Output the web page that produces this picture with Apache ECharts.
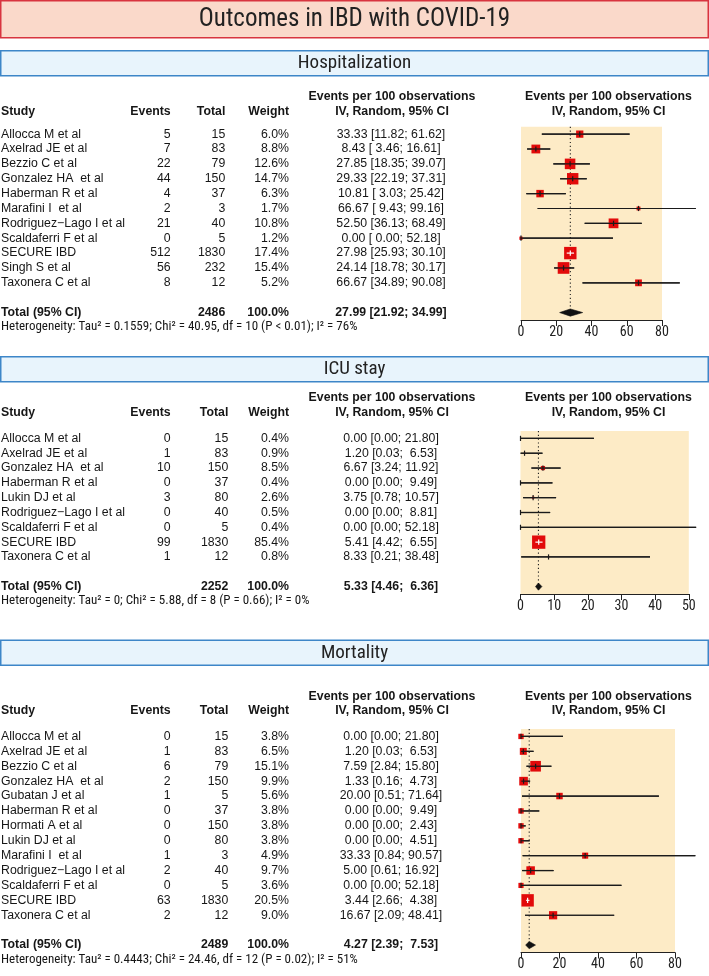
<!DOCTYPE html>
<html><head><meta charset="utf-8">
<script src="https://cdn.jsdelivr.net/npm/echarts@6/dist/echarts.min.js"></script>
<style>html,body{margin:0;padding:0;background:#fff}#c{width:709px;height:976px}</style>
</head><body><div id="c"></div><script>
// ---------- Hospitalization ----------
const hospStudies = ['Allocca M et al','Axelrad JE et al','Bezzio C et al','Gonzalez HA  et al','Haberman R et al','Marafini I  et al','Rodriguez\u2212Lago I et al','Scaldaferri F et al','SECURE IBD','Singh S et al','Taxonera C et al'];
const hospEvents  = [5,7,22,44,4,2,21,0,512,56,8];
const hospTotals  = [15,83,79,150,37,3,40,5,1830,232,12];
const hospWeights = [6.0,8.8,12.6,14.7,6.3,1.7,10.8,1.2,17.4,15.4,5.2];
const hospEst     = [33.33,8.43,27.85,29.33,10.81,66.67,52.50,0.00,27.98,24.14,66.67];
const hospLo      = [11.82,3.46,18.35,22.19,3.03,9.43,36.13,0.00,25.93,18.78,34.89];
const hospHi      = [61.62,16.61,39.07,37.31,25.42,99.16,68.49,52.18,30.10,30.17,90.08];
const hospPooled  = [27.99,21.92,34.99];
const hospTotalN  = 2486;
const hospHet     = 'Heterogeneity: Tau\u00b2 = 0.1559; Chi\u00b2 = 40.95, df = 10 (P < 0.01); I\u00b2 = 76%';
const hospTicks   = [0,20,40,60,80];

// ---------- ICU stay ----------
const icuStudies = ['Allocca M et al','Axelrad JE et al','Gonzalez HA  et al','Haberman R et al','Lukin DJ et al','Rodriguez\u2212Lago I et al','Scaldaferri F et al','SECURE IBD','Taxonera C et al'];
const icuEvents  = [0,1,10,0,3,0,0,99,1];
const icuTotals  = [15,83,150,37,80,40,5,1830,12];
const icuWeights = [0.4,0.9,8.5,0.4,2.6,0.5,0.4,85.4,0.8];
const icuEst     = [0.00,1.20,6.67,0.00,3.75,0.00,0.00,5.41,8.33];
const icuLo      = [0.00,0.03,3.24,0.00,0.78,0.00,0.00,4.42,0.21];
const icuHi      = [21.80,6.53,11.92,9.49,10.57,8.81,52.18,6.55,38.48];
const icuPooled  = [5.33,4.46,6.36];
const icuTotalN  = 2252;
const icuHet     = 'Heterogeneity: Tau\u00b2 = 0; Chi\u00b2 = 5.88, df = 8 (P = 0.66); I\u00b2 = 0%';
const icuTicks   = [0,10,20,30,40,50];

// ---------- Mortality ----------
const morStudies = ['Allocca M et al','Axelrad JE et al','Bezzio C et al','Gonzalez HA  et al','Gubatan J et al','Haberman R et al','Hormati A et al','Lukin DJ et al','Marafini I  et al','Rodriguez\u2212Lago I et al','Scaldaferri F et al','SECURE IBD','Taxonera C et al'];
const morEvents  = [0,1,6,2,1,0,0,0,1,2,0,63,2];
const morTotals  = [15,83,79,150,5,37,150,80,3,40,5,1830,12];
const morWeights = [3.8,6.5,15.1,9.9,5.6,3.8,3.8,3.8,4.9,9.7,3.6,20.5,9.0];
const morEst     = [0.00,1.20,7.59,1.33,20.00,0.00,0.00,0.00,33.33,5.00,0.00,3.44,16.67];
const morLo      = [0.00,0.03,2.84,0.16,0.51,0.00,0.00,0.00,0.84,0.61,0.00,2.66,2.09];
const morHi      = [21.80,6.53,15.80,4.73,71.64,9.49,2.43,4.51,90.57,16.92,52.18,4.38,48.41];
const morPooled  = [4.27,2.39,7.53];
const morTotalN  = 2489;
const morHet     = 'Heterogeneity: Tau\u00b2 = 0.4443; Chi\u00b2 = 24.46, df = 12 (P = 0.02); I\u00b2 = 51%';
const morTicks   = [0,20,40,60,80];

const mainTitle = 'Outcomes in IBD with COVID-19';
const colHead1 = 'Events per 100 observations';
const colHead2 = 'IV, Random, 95% CI';

const FONT = '"Liberation Sans", Arial, Helvetica, sans-serif';
const NARROW = '"Liberation Sans Narrow", "Arial Narrow", "Roboto Condensed", "DejaVu Sans Condensed", sans-serif';
const TXT = '#161616';

const panels = [
  {name:'Hospitalization', studies:hospStudies, events:hospEvents, totals:hospTotals, weights:hospWeights, est:hospEst, lo:hospLo, hi:hospHi, pooled:hospPooled, totalN:hospTotalN, het:hospHet, ticks:hospTicks,
   grid:{left:521, top:126.7, width:141, height:193.3}, boxY:50, hdrY:[96.7,111.7], totalX:225.3, maxSq:12.4},
  {name:'ICU stay', studies:icuStudies, events:icuEvents, totals:icuTotals, weights:icuWeights, est:icuEst, lo:icuLo, hi:icuHi, pooled:icuPooled, totalN:icuTotalN, het:icuHet, ticks:icuTicks,
   grid:{left:520.5, top:431, width:168.3, height:163}, boxY:356, hdrY:[398,413], totalX:228.3, maxSq:13.3},
  {name:'Mortality', studies:morStudies, events:morEvents, totals:morTotals, weights:morWeights, est:morEst, lo:morLo, hi:morHi, pooled:morPooled, totalN:morTotalN, het:morHet, ticks:morTicks,
   grid:{left:521, top:729, width:154, height:223.5}, boxY:639.5, hdrY:[696.5,711], totalX:228.3, maxSq:12.4}
];

function pad(s, w){ while (s.length < w) s = ' ' + s; return s; }
function ciFormatter(est, lo, hi, loW, hiW){
  return est.toFixed(2) + ' [' + pad(lo.toFixed(2), loW) + '; ' + pad(hi.toFixed(2), hiW) + ']';
}

function txt(text, x, y, align, opt){
  return Object.assign({type:'text', x:x, y:y, silent:true, style:Object.assign({
    text:text, align:align, textAlign:align, verticalAlign:'middle', textVerticalAlign:'middle',
    fill:TXT, fontSize:12.3, fontFamily:FONT, fontWeight:'normal'}, (opt||{}))});
}

const grids = [], xAxes = [], yAxes = [], series = [], graphics = [];

// main title box
graphics.push({type:'rect', silent:true, shape:{x:0.75, y:0.75, width:707.5, height:37}, style:{fill:'#fad9ca', stroke:'#d8343f', lineWidth:1.5}});
graphics.push({type:'text', silent:true, x:354.5, y:19.5, style:{text:mainTitle, align:'center', textAlign:'center', verticalAlign:'middle', textVerticalAlign:'middle', fontSize:25, fontFamily:NARROW, fill:'#222'}});

panels.forEach((p, gi) => {
  const n = p.studies.length;
  const totalRow = n + 1;
  grids.push(Object.assign({show:true, backgroundColor:'#fdebc6', borderWidth:0, containLabel:false, outerBoundsMode:'none'}, p.grid));
  xAxes.push({gridIndex:gi, type:'value', position:'bottom', min:p.ticks[0], max:p.ticks[p.ticks.length-1], interval:p.ticks[1]-p.ticks[0],
    axisLine:{show:true, onZero:false, lineStyle:{color:'#222', width:1}},
    axisTick:{show:true, inside:false, length:6, lineStyle:{color:'#222', width:1}},
    axisLabel:{show:true, color:'#222', fontSize:14, fontFamily:NARROW, margin:5},
    splitLine:{show:false}});
  yAxes.push({gridIndex:gi, type:'value', inverse:true, min:-0.5, max:totalRow + 0.5, show:false});

  // section header box
  graphics.push({type:'rect', silent:true, shape:{x:0.75, y:p.boxY + 0.75, width:707.5, height:25}, style:{fill:'#e8f4fc', stroke:'#3d86c8', lineWidth:1.5}});
  graphics.push({type:'text', silent:true, x:354.5, y:p.boxY + 13.5, style:{text:p.name, align:'center', textAlign:'center', verticalAlign:'middle', textVerticalAlign:'middle', fontSize:19, fontFamily:NARROW, fill:'#222'}});
  // column headers
  const B = {fontWeight:'bold'};
  graphics.push(txt(colHead1, 392, p.hdrY[0], 'center', B));
  graphics.push(txt(colHead2, 392, p.hdrY[1], 'center', B));
  graphics.push(txt(colHead1, 608.5, p.hdrY[0], 'center', B));
  graphics.push(txt(colHead2, 608.5, p.hdrY[1], 'center', B));
  graphics.push(txt('Study', 1, p.hdrY[1], 'left', B));
  graphics.push(txt('Events', 170.7, p.hdrY[1], 'right', B));
  graphics.push(txt('Total', p.totalX, p.hdrY[1], 'right', B));
  graphics.push(txt('Weight', 289, p.hdrY[1], 'right', B));

  // table rows
  const loW = Math.max(...p.lo.concat([p.pooled[1]]).map(v => v.toFixed(2).length));
  const hiW = Math.max(...p.hi.concat([p.pooled[2]]).map(v => v.toFixed(2).length));
  const rows = [];
  for (let i = 0; i < n; i++) {
    rows.push({row:i, cells:[p.studies[i], String(p.events[i]), String(p.totals[i]), p.weights[i].toFixed(1) + '%', ciFormatter(p.est[i], p.lo[i], p.hi[i], loW, hiW)], bold:false});
  }
  rows.push({row:totalRow, cells:['Total (95% CI)', '', String(p.totalN), '100.0%', ciFormatter(p.pooled[0], p.pooled[1], p.pooled[2], loW, hiW)], bold:true});
  rows.push({row:totalRow + 0.97, het:p.het});

  series.push({type:'custom', xAxisIndex:gi, yAxisIndex:gi, clip:false, silent:true, animation:false,
    data: rows.map(r => [0, r.row]),
    renderItem: (params, api) => {
      const r = rows[params.dataIndex];
      const y = api.coord([0, api.value(1)])[1];
      if (r.het) {
        return {type:'group', children:[txt(r.het, 1, y, 'left', {fontFamily:NARROW, fontSize:13})]};
      }
      const o = {fontWeight: r.bold ? 'bold' : 'normal'};
      return {type:'group', children:[
        txt(r.cells[0], 1, y, 'left', o),
        txt(r.cells[1], 170.7, y, 'right', o),
        txt(r.cells[2], p.totalX, y, 'right', o),
        txt(r.cells[3], 289, y, 'right', o),
        txt(r.cells[4], 391, y, 'center', o)
      ]};
    }});

  // dotted reference line at pooled estimate
  series.push({type:'custom', xAxisIndex:gi, yAxisIndex:gi, clip:false, silent:true, animation:false,
    data:[[p.pooled[0], -0.5, totalRow]],
    renderItem: (params, api) => {
      const a = api.coord([api.value(0), api.value(1)]);
      const b = api.coord([api.value(0), api.value(2)]);
      return {type:'line', shape:{x1:a[0], y1:a[1], x2:b[0], y2:b[1]}, style:{stroke:'#222', lineWidth:1.1, lineDash:[1.2, 2.6]}};
    }});

  // study squares and CI lines
  const wmax = Math.max(...p.weights);
  series.push({type:'custom', xAxisIndex:gi, yAxisIndex:gi, clip:false, silent:true, animation:false,
    data: p.studies.map((s, i) => [p.est[i], i, p.lo[i], p.hi[i], p.weights[i]]),
    renderItem: (params, api) => {
      const c = api.coord([api.value(0), api.value(1)]);
      const l = api.coord([api.value(2), api.value(1)]);
      const h = api.coord([api.value(3), api.value(1)]);
      const s = p.maxSq * Math.sqrt(api.value(4) / wmax);
      const inside = l[0] >= c[0] - s/2 && h[0] <= c[0] + s/2;
      const col = inside ? '#ffffff' : '#1a1a1a';
      const ch = [];
      if (!inside) ch.push({type:'line', shape:{x1:l[0], y1:c[1], x2:h[0], y2:c[1]}, style:{stroke:'#1a1a1a', lineWidth:1.2}});
      ch.push({type:'rect', shape:{x:c[0] - s/2, y:c[1] - s/2, width:s, height:s}, style:{fill:'#e20a0a'}});
      ch.push({type:'line', shape:{x1:l[0], y1:c[1], x2:h[0], y2:c[1]}, style:{stroke:col, lineWidth:1.2}});
      ch.push({type:'line', shape:{x1:c[0], y1:c[1] - 2.6, x2:c[0], y2:c[1] + 2.6}, style:{stroke:col, lineWidth:1.2}});
      return {type:'group', children:ch};
    }});

  // pooled diamond
  series.push({type:'custom', xAxisIndex:gi, yAxisIndex:gi, clip:false, silent:true, animation:false,
    data:[[p.pooled[0], totalRow, p.pooled[1], p.pooled[2]]],
    renderItem: (params, api) => {
      const c = api.coord([api.value(0), api.value(1)]);
      const l = api.coord([api.value(2), api.value(1)]);
      const h = api.coord([api.value(3), api.value(1)]);
      return {type:'polygon', shape:{points:[[l[0], c[1]], [c[0], c[1] - 3.6], [h[0], c[1]], [c[0], c[1] + 3.6]]}, style:{fill:'#111', stroke:'#111', lineWidth:0.6}};
    }});
});

const chart = echarts.init(document.getElementById('c'), null, {renderer:'canvas'});
chart.setOption({
  animation:false,
  backgroundColor:'#ffffff',
  grid:grids, xAxis:xAxes, yAxis:yAxes, series:series,
  graphic:{elements:graphics}
});
</script></body></html>
